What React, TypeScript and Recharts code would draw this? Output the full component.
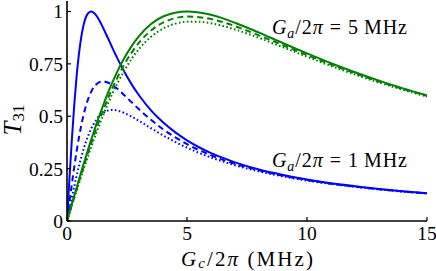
import React from 'react';
import { LineChart, Line, XAxis, YAxis, ReferenceDot } from 'recharts';

const GC = [0, 0.1, 0.2, 0.3, 0.4, 0.5, 0.6, 0.7, 0.8, 0.9, 1, 1.1, 1.2, 1.35, 1.5, 1.7, 1.9, 2.1, 2.4, 2.7, 3, 3.5, 4, 4.5, 5, 5.5, 6, 6.5, 7, 8, 9, 10, 11, 12, 13, 14, 15];

const BLUE_SOLID = [0, 0.198, 0.385, 0.55, 0.69, 0.8, 0.882, 0.94, 0.976, 0.994, 1.0, 0.995, 0.984, 0.957, 0.923, 0.874, 0.824, 0.776, 0.71, 0.651, 0.6, 0.528, 0.471, 0.424, 0.385, 0.352, 0.324, 0.301, 0.28, 0.246, 0.22, 0.198, 0.18, 0.166, 0.153, 0.142, 0.133];
const BLUE_DASHED = [0, 0.0885, 0.175, 0.256, 0.332, 0.4, 0.46, 0.511, 0.554, 0.588, 0.615, 0.636, 0.65, 0.663, 0.667, 0.661, 0.648, 0.631, 0.599, 0.566, 0.533, 0.483, 0.438, 0.4, 0.367, 0.338, 0.314, 0.292, 0.273, 0.242, 0.216, 0.196, 0.178, 0.164, 0.152, 0.141, 0.132];
const BLUE_DOTTED = [0, 0.056, 0.111, 0.164, 0.215, 0.262, 0.306, 0.346, 0.381, 0.412, 0.439, 0.461, 0.48, 0.502, 0.516, 0.527, 0.53, 0.527, 0.515, 0.498, 0.478, 0.443, 0.409, 0.378, 0.35, 0.325, 0.303, 0.284, 0.266, 0.237, 0.213, 0.193, 0.177, 0.163, 0.151, 0.14, 0.131];
const GREEN_SOLID = [0, 0.04, 0.08, 0.12, 0.159, 0.198, 0.237, 0.275, 0.312, 0.349, 0.385, 0.42, 0.454, 0.503, 0.55, 0.61, 0.664, 0.714, 0.78, 0.836, 0.882, 0.94, 0.976, 0.994, 1.0, 0.995, 0.984, 0.967, 0.946, 0.899, 0.849, 0.8, 0.753, 0.71, 0.67, 0.633, 0.6];
const GREEN_DASHED = [0, 0.038, 0.076, 0.114, 0.151, 0.189, 0.225, 0.262, 0.298, 0.333, 0.367, 0.401, 0.433, 0.481, 0.526, 0.583, 0.636, 0.685, 0.75, 0.805, 0.851, 0.909, 0.947, 0.968, 0.976, 0.973, 0.964, 0.949, 0.93, 0.886, 0.839, 0.792, 0.747, 0.705, 0.666, 0.63, 0.597];
const GREEN_DOTTED = [0, 0.036, 0.072, 0.108, 0.144, 0.18, 0.215, 0.25, 0.284, 0.317, 0.35, 0.382, 0.414, 0.459, 0.503, 0.558, 0.61, 0.657, 0.72, 0.775, 0.821, 0.879, 0.918, 0.941, 0.951, 0.951, 0.944, 0.931, 0.914, 0.874, 0.829, 0.784, 0.74, 0.699, 0.661, 0.626, 0.594];

const X_TICKS = [0, 5, 10, 15];
const Y_TICKS = [0, 0.25, 0.5, 0.75, 1];
const X_DOMAIN = [0, 15];
const Y_DOMAIN = [0, 1.05];

const ANNOTATIONS = [
  { x: 8.54, y: 0.893, value: '5' },
  { x: 8.54, y: 0.257, value: '1' },
];

const data = GC.map((gc, i) => ({
  x: gc,
  b1: BLUE_SOLID[i],
  b2: BLUE_DASHED[i],
  b3: BLUE_DOTTED[i],
  g1: GREEN_SOLID[i],
  g2: GREEN_DASHED[i],
  g3: GREEN_DOTTED[i],
}));

const FONT = "'Liberation Serif', 'Times New Roman', serif";
const BLUE = '#0000ff';
const GREEN = '#008000';

const tickStyle = { fontSize: 19.5, fill: '#000', style: { fontFamily: FONT } };

const XLabel = (props: any) => {
  const vb = props.viewBox || {};
  const cx = vb.x + vb.width / 2;
  return (
    <text x={cx - 66} y={vb.y + 45} textLength={132} lengthAdjust="spacing" style={{ fontFamily: FONT }} fontSize={21} fill="#000">
      <tspan fontStyle="italic">G</tspan>
      <tspan fontStyle="italic" fontSize={15} dy={1.5}>c</tspan>
      <tspan dy={-1.5}>/2</tspan>
      <tspan fontStyle="italic">π</tspan>
      <tspan> (MHz)</tspan>
    </text>
  );
};

const YLabel = (props: any) => {
  const vb = props.viewBox || {};
  const cy = vb.y + vb.height / 2 + 9;
  const x = 21;
  return (
    <text x={x} y={cy} transform={`rotate(-90, ${x}, ${cy})`} textAnchor="middle" style={{ fontFamily: FONT }} fontSize={25} fill="#000">
      <tspan fontStyle="italic">T</tspan>
      <tspan fontSize={17} dy={3}>31</tspan>
    </text>
  );
};

const Annot = (value: string) => (props: any) => (
  <text x={props.cx} y={props.cy} textLength={135} lengthAdjust="spacing" style={{ fontFamily: FONT }} fontSize={20} fill="#000">
    <tspan fontStyle="italic">G</tspan>
    <tspan fontStyle="italic" fontSize={14} dy={4}>a</tspan>
    <tspan dy={-4}>/2</tspan>
    <tspan fontStyle="italic">π</tspan>
    <tspan>{` = ${value}\u2009MHz`}</tspan>
  </text>
);

export default function App() {
  return (
    <div style={{ position: 'absolute', left: 0, top: 0, background: '#fff', fontFamily: FONT }}>
      <LineChart width={436} height={271} data={data} margin={{ top: 1, right: 9, bottom: 0, left: 0 }}>
        <XAxis
          dataKey="x"
          type="number"
          domain={X_DOMAIN}
          ticks={X_TICKS}
          interval={0}
          allowDataOverflow
          height={50}
          tickSize={-4}
          tickMargin={9.5}
          tick={tickStyle}
          stroke="#000"
          axisLine={{ stroke: '#000', strokeWidth: 1.6 }}
          tickLine={{ stroke: '#000', strokeWidth: 1.2 }}
          label={{ content: XLabel }}
        />
        <XAxis
          xAxisId="top"
          orientation="top"
          dataKey="x"
          type="number"
          domain={X_DOMAIN}
          ticks={X_TICKS}
          interval={0}
          allowDataOverflow
          height={0}
          tickSize={-4}
          tickFormatter={() => ''}
          axisLine={{ stroke: '#000', strokeWidth: 1.6 }}
          tickLine={{ stroke: '#000', strokeWidth: 1.2 }}
        />
        <YAxis
          type="number"
          domain={Y_DOMAIN}
          ticks={Y_TICKS}
          interval={0}
          allowDataOverflow
          width={67}
          tickSize={-4}
          tickMargin={8}
          tick={tickStyle}
          axisLine={{ stroke: '#000', strokeWidth: 1.6 }}
          tickLine={{ stroke: '#000', strokeWidth: 1.2 }}
          label={{ content: YLabel }}
        />
        <YAxis
          yAxisId="right"
          orientation="right"
          type="number"
          domain={Y_DOMAIN}
          ticks={Y_TICKS}
          interval={0}
          allowDataOverflow
          width={0}
          tickSize={-4}
          tickFormatter={() => ''}
          axisLine={{ stroke: '#000', strokeWidth: 1.6 }}
          tickLine={{ stroke: '#000', strokeWidth: 1.2 }}
        />
        <Line type="monotone" dataKey="b3" stroke={BLUE} strokeWidth={2} strokeDasharray="1.6 2.4" dot={false} isAnimationActive={false} />
        <Line type="monotone" dataKey="b2" stroke={BLUE} strokeWidth={2} strokeDasharray="6 4" dot={false} isAnimationActive={false} />
        <Line type="monotone" dataKey="b1" stroke={BLUE} strokeWidth={2} dot={false} isAnimationActive={false} />
        <Line type="monotone" dataKey="g3" stroke={GREEN} strokeWidth={2} strokeDasharray="1.6 2.4" dot={false} isAnimationActive={false} />
        <Line type="monotone" dataKey="g2" stroke={GREEN} strokeWidth={2} strokeDasharray="6 4" dot={false} isAnimationActive={false} />
        <Line type="monotone" dataKey="g1" stroke={GREEN} strokeWidth={2} dot={false} isAnimationActive={false} />
        {ANNOTATIONS.map((a) => (
          <ReferenceDot key={a.value} x={a.x} y={a.y} r={0} ifOverflow="visible" shape={Annot(a.value)} />
        ))}
      </LineChart>
    </div>
  );
}
